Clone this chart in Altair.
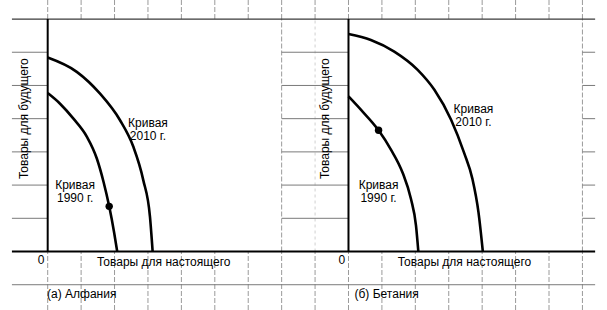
import altair as alt
import pandas as pd

# ---------------- data (grid units: 1 unit = one square of the graph paper) -------------
# Alfania (a)
alf_1990_u = [0.0, 0.37, 0.77, 1.17, 1.47, 1.67, 1.84, 1.99, 2.08]
alf_1990_v = [4.77, 4.45, 4.0, 3.46, 2.80, 2.10, 1.36, 0.56, 0.0]
alf_2010_u = [0.0, 0.87, 1.56, 2.16, 2.56, 2.86, 3.06, 3.14]
alf_2010_v = [5.84, 5.41, 4.76, 3.96, 3.16, 2.15, 1.05, 0.0]
alf_dot = (1.84, 1.36)
# Betania (б)
bet_1990_u = [0.0, 0.37, 0.9, 1.27, 1.62, 1.87, 2.02, 2.09]
bet_1990_v = [4.67, 4.27, 3.65, 3.07, 2.37, 1.58, 0.78, 0.0]
bet_2010_u = [0.0, 0.67, 1.37, 2.07, 2.57, 3.07, 3.46, 3.71, 3.89, 4.02]
bet_2010_v = [6.55, 6.37, 6.02, 5.47, 4.87, 3.97, 2.97, 2.18, 1.18, 0.0]
bet_dot = (0.9, 3.65)

panel_names = ["a", "b"]
panel_titles = ["(a)  Алфания", "(б)  Бетания"]
x_title = "Товары для настоящего"
y_title = "Товары для будущего"
curve_label_1990 = "Кривая\n1990 г."
curve_label_2010 = "Кривая\n2010 г."

# ---------------- layout -----------------
W, H = 607, 310
XDOM = [-1.427, 16.735]
YDOM = [-1.761, 7.573]
OFFSET = {"a": 0, "b": 9}
BOX = 7
U_LEFT, U_RIGHT = -1.07, 16.38
FONT = "Liberation Sans"
FS = 12

xs = alt.Scale(domain=XDOM, nice=False, zero=False)
ys = alt.Scale(domain=YDOM, nice=False, zero=False)

# ---------------- build tables ---------------
curves = []
for panel, name, us, vs in [
    ("a", "1990", alf_1990_u, alf_1990_v),
    ("a", "2010", alf_2010_u, alf_2010_v),
    ("b", "1990", bet_1990_u, bet_1990_v),
    ("b", "2010", bet_2010_u, bet_2010_v),
]:
    for i, (u, v) in enumerate(zip(us, vs)):
        curves.append({"key": panel + name, "i": i, "x": u + OFFSET[panel], "y": v})
curves = pd.DataFrame(curves)

dots = pd.DataFrame([
    {"x": alf_dot[0] + OFFSET["a"], "y": alf_dot[1]},
    {"x": bet_dot[0] + OFFSET["b"], "y": bet_dot[1]},
])

grid_u = list(range(0, 17))
grid_v = list(range(-1, 8))
seg = []  # x, x2, y, y2, kind
for u in grid_u:
    seg.append((u, u, YDOM[0], 0, "faint"))
    seg.append((u, u, BOX, YDOM[1], "faint"))
    if u in (7, 16):
        seg.append((u, u, 0, BOX, "faint"))
    if u == 8:
        seg.append((u, u, 0, BOX, "vfaint"))
for v in grid_v:
    if v == -1:
        seg.append((U_LEFT, U_RIGHT, v, v, "grid"))
    elif v == BOX:
        seg.append((U_LEFT, U_RIGHT, v, v, "dark"))
    elif v == 0:
        seg.append((U_LEFT, U_RIGHT, v, v, "axis"))
    else:
        seg.append((U_LEFT, 0, v, v, "grid"))
        seg.append((BOX, 9, v, v, "grid"))
        seg.append((16, U_RIGHT, v, v, "grid"))
for p in panel_names:
    seg.append((OFFSET[p], OFFSET[p], 0, BOX, "axis"))
seg = pd.DataFrame(seg, columns=["x", "x2", "y", "y2", "kind"])

styles = {
    "vfaint": dict(color="#d0d0d0", strokeWidth=1, strokeDash=[3, 3]),
    "faint": dict(color="#9a9a9a", strokeWidth=1, strokeDash=[5, 2]),
    "grid": dict(color="#7a7a7a", strokeWidth=1),
    "dark": dict(color="#3a3a3a", strokeWidth=1.3),
    "axis": dict(color="#000000", strokeWidth=2),
}

layers = []
for kind, st in styles.items():
    d = seg[seg.kind == kind]
    layers.append(
        alt.Chart(d).mark_rule(**st).encode(
            x=alt.X("x:Q", scale=xs, axis=None),
            x2="x2:Q",
            y=alt.Y("y:Q", scale=ys, axis=None),
            y2="y2:Q",
        )
    )

layers.append(
    alt.Chart(curves).mark_line(color="black", strokeWidth=2.6, interpolate="monotone").encode(
        x=alt.X("x:Q", scale=xs, axis=None),
        y=alt.Y("y:Q", scale=ys, axis=None),
        detail="key:N",
        order="i:Q",
    )
)
layers.append(
    alt.Chart(dots).mark_circle(color="black", size=55, opacity=1).encode(
        x=alt.X("x:Q", scale=xs, axis=None),
        y=alt.Y("y:Q", scale=ys, axis=None),
    )
)

# ---------------- texts -----------------
texts = pd.DataFrame([
    {"x": 0.82 + OFFSET["a"], "y": 2.0, "t": curve_label_1990},
    {"x": 3.0 + OFFSET["a"], "y": 3.86, "t": curve_label_2010},
    {"x": 0.9 + OFFSET["b"], "y": 2.0, "t": curve_label_1990},
    {"x": 3.74 + OFFSET["b"], "y": 4.3, "t": curve_label_2010},
])
layers.append(
    alt.Chart(texts).mark_text(font=FONT, fontSize=FS, lineBreak="\n", lineHeight=13,
                               color="black", baseline="middle").encode(
        x=alt.X("x:Q", scale=xs, axis=None),
        y=alt.Y("y:Q", scale=ys, axis=None),
        text="t:N",
    )
)

xlab = pd.DataFrame([
    {"x": 3.47 + OFFSET[p], "y": -0.32, "t": x_title} for p in panel_names
])
layers.append(
    alt.Chart(xlab).mark_text(font=FONT, fontSize=FS, color="black", baseline="middle").encode(
        x=alt.X("x:Q", scale=xs, axis=None),
        y=alt.Y("y:Q", scale=ys, axis=None),
        text="t:N",
    )
)
zero = pd.DataFrame([{"x": -0.2 + OFFSET[p], "y": -0.26, "t": "0"} for p in panel_names])
layers.append(
    alt.Chart(zero).mark_text(font=FONT, fontSize=FS, color="black", baseline="middle").encode(
        x=alt.X("x:Q", scale=xs, axis=None),
        y=alt.Y("y:Q", scale=ys, axis=None),
        text="t:N",
    )
)
ylab = pd.DataFrame([{"x": -0.7 + OFFSET[p], "y": 4.0, "t": y_title} for p in panel_names])
layers.append(
    alt.Chart(ylab).mark_text(font=FONT, fontSize=FS, color="black", angle=270,
                              baseline="middle").encode(
        x=alt.X("x:Q", scale=xs, axis=None),
        y=alt.Y("y:Q", scale=ys, axis=None),
        text="t:N",
    )
)
ptitle = pd.DataFrame([
    {"x": -0.02 + OFFSET[p] + (0.2 if p == "b" else 0), "y": -1.27, "t": t}
    for p, t in zip(panel_names, panel_titles)
])
layers.append(
    alt.Chart(ptitle).mark_text(font=FONT, fontSize=FS, color="black", align="left",
                                baseline="middle").encode(
        x=alt.X("x:Q", scale=xs, axis=None),
        y=alt.Y("y:Q", scale=ys, axis=None),
        text="t:N",
    )
)

chart = alt.layer(*layers).properties(
    width=W, height=H, padding=0, autosize="none", background="white"
).configure_view(stroke=None)

chart.save("out.html", embed_options={"renderer": "svg", "actions": False})
